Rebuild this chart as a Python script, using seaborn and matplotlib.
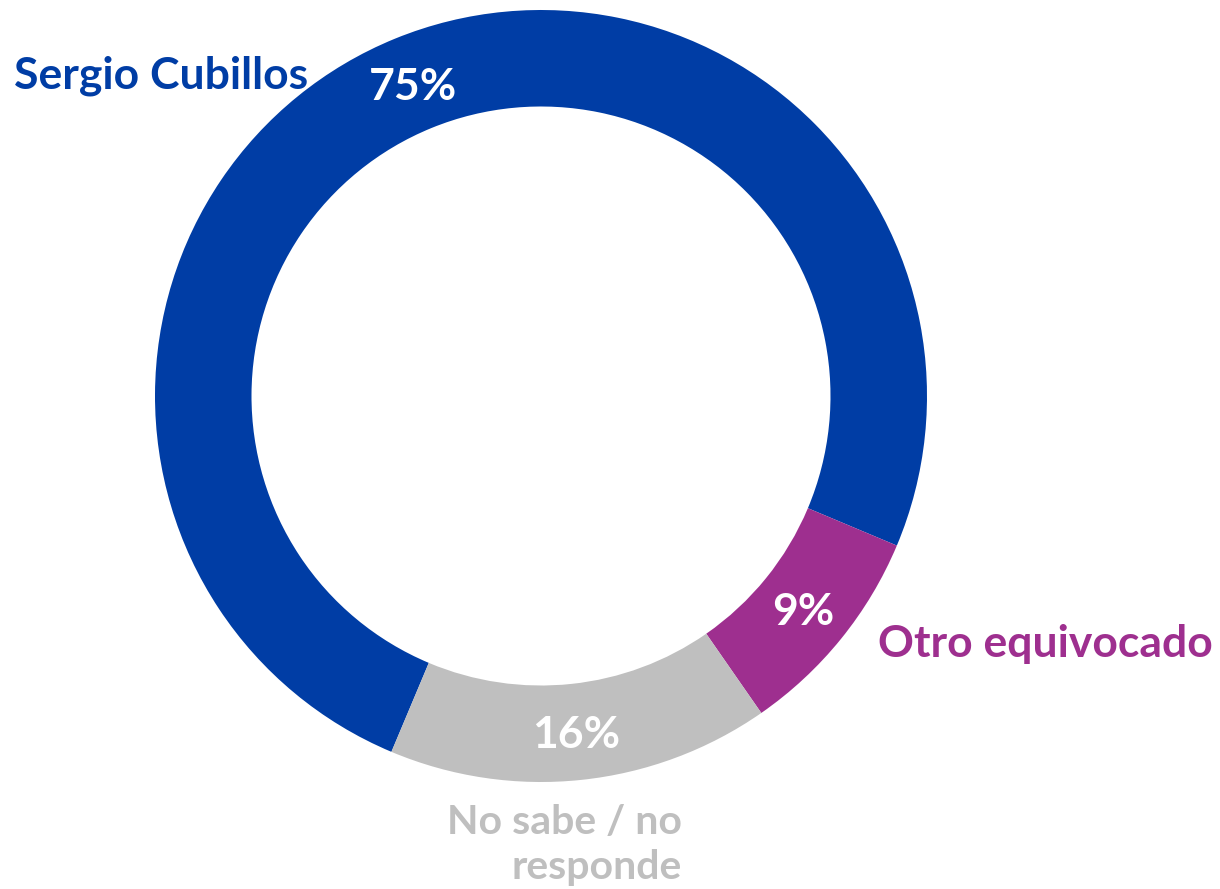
import matplotlib
matplotlib.use("Agg")
import matplotlib.pyplot as plt
import seaborn as sns

# Survey shares (percent)
categories = ["Sergio Cubillos", "Otro equivocado", "No sabe / no\nresponde"]
shares = [75, 9, 16]
colors = ["#003DA5", "#9E2F8F", "#BFBFBF"]

sns.set_theme(style="white")
plt.rcParams["font.family"] = ["Lato", "DejaVu Sans"]

W, H = 1220, 889
cx, cy, R = 541, 396, 386  # ring centre and outer radius in pixels
FS = 32

fig = plt.figure(figsize=(W / 100, H / 100), dpi=100)
ax = fig.add_axes([0, 0, 1, 1])

wedges, texts, autotexts = ax.pie(
    shares,
    colors=colors,
    startangle=247.2,
    counterclock=False,
    radius=1.0,
    wedgeprops=dict(width=0.25, linewidth=0),
    autopct=lambda p: f"{p:.0f}%",
    pctdistance=0.875,
    textprops=dict(color="white", fontsize=FS, fontweight="bold"),
)
for t in autotexts:
    t.set_va("center_baseline")

ax.set_xlim(-cx / R, (W - cx) / R)
ax.set_ylim(-(H - cy) / R, cy / R)
ax.set_aspect("equal")
ax.axis("off")


def px(x, y):
    return (x - cx) / R, (cy - y) / R


# Category labels placed around the ring
ax.text(*px(161, 72), categories[0], color=colors[0], fontsize=FS,
        fontweight="bold", ha="center", va="center_baseline")
ax.text(*px(1045, 640), categories[1], color=colors[1], fontsize=FS,
        fontweight="bold", ha="center", va="center_baseline")
ax.text(*px(682, 845), categories[2], color=colors[2], fontsize=29.5,
        fontweight="bold", ha="right", va="center", multialignment="right",
        linespacing=1.25)

fig.savefig("out.png", dpi=100, facecolor="white")
